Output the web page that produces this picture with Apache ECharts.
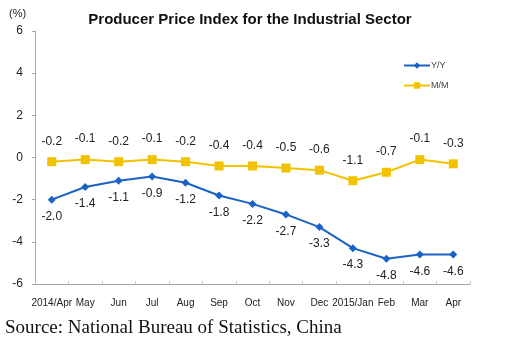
<!DOCTYPE html>
<html>
<head>
<meta charset="utf-8">
<script src="https://cdn.jsdelivr.net/npm/echarts@6/dist/echarts.min.js"></script>
<style>
  html, body { margin: 0; padding: 0; background: #fff; }
  #chart { width: 527px; height: 345px; }
</style>
</head>
<body>
<div id="chart"></div>
<script>
// Monthly producer price index, percent change
const months = ['2014/Apr', 'May', 'Jun', 'Jul', 'Aug', 'Sep', 'Oct', 'Nov', 'Dec', '2015/Jan', 'Feb', 'Mar', 'Apr'];
const yoy = [-2.0, -1.4, -1.1, -0.9, -1.2, -1.8, -2.2, -2.7, -3.3, -4.3, -4.8, -4.6, -4.6];
const mom = [-0.2, -0.1, -0.2, -0.1, -0.2, -0.4, -0.4, -0.5, -0.6, -1.1, -0.7, -0.1, -0.3];
const yTicks = [-6, -4, -2, 0, 2, 4, 6];

const axisGrey = '#a6a6a6';
const textFont = 'Arial, "Liberation Sans", sans-serif';

const chart = echarts.init(document.getElementById('chart'), null, { renderer: 'canvas' });

chart.setOption({
  backgroundColor: '#ffffff',
  animation: false,
  title: {
    text: 'Producer Price Index for the Industrial Sector',
    left: 245, top: 7, textAlign: 'center',
    textStyle: { fontFamily: textFont, fontSize: 15, fontWeight: 'bold', color: '#111' }
  },
  legend: {
    orient: 'vertical',
    left: 398, top: 56,
    itemWidth: 26, itemHeight: 8, itemGap: 11,
    textStyle: { fontFamily: textFont, fontSize: 9, color: '#444', padding: [0, 0, 0, -4] },
    data: ['Y/Y', 'M/M']
  },
  grid: { left: 35, right: 57, top: 31, bottom: 61, containLabel: false },
  graphic: [
    {
      type: 'text', left: 9, top: 8,
      style: { text: '(%)', font: '11px ' + textFont, fill: '#222' }
    },
    {
      type: 'text', left: 5, top: 319,
      style: { text: 'Source: National Bureau of Statistics, China', font: '19px "Liberation Serif", "Times New Roman", serif', fill: '#111' }
    }
  ],
  xAxis: {
    type: 'category',
    data: months,
    boundaryGap: true,
    axisLine: { onZero: false, lineStyle: { color: axisGrey } },
    axisTick: { show: true, inside: true, length: 3, lineStyle: { color: '#c8c8c8' } },
    axisLabel: { interval: 0, margin: 14, fontFamily: textFont, fontSize: 10, color: '#222' },
    splitLine: { show: false }
  },
  yAxis: {
    type: 'value',
    min: yTicks[0], max: yTicks[yTicks.length - 1], interval: 2,
    axisLine: { show: true, lineStyle: { color: axisGrey } },
    axisTick: { show: true, length: 3, lineStyle: { color: axisGrey } },
    axisLabel: { margin: 12, fontFamily: textFont, fontSize: 12, color: '#222' },
    splitLine: { show: false }
  },
  series: [
    {
      name: 'Y/Y',
      type: 'line',
      data: yoy,
      symbol: 'diamond', symbolSize: 8,
      lineStyle: { color: '#1a63c6', width: 2 },
      itemStyle: { color: '#1a63c6' },
      label: {
        show: true, position: 'bottom', distance: 7,
        fontFamily: textFont, fontSize: 12, color: '#222',
        formatter: p => p.value.toFixed(1)
      }
    },
    {
      name: 'M/M',
      type: 'line',
      data: mom,
      symbol: 'rect', symbolSize: 9,
      lineStyle: { color: '#f2c200', width: 2 },
      itemStyle: { color: '#f2c200' },
      label: {
        show: true, position: 'top', distance: 10,
        fontFamily: textFont, fontSize: 12, color: '#222',
        formatter: p => p.value.toFixed(1)
      }
    }
  ]
});
</script>
</body>
</html>
